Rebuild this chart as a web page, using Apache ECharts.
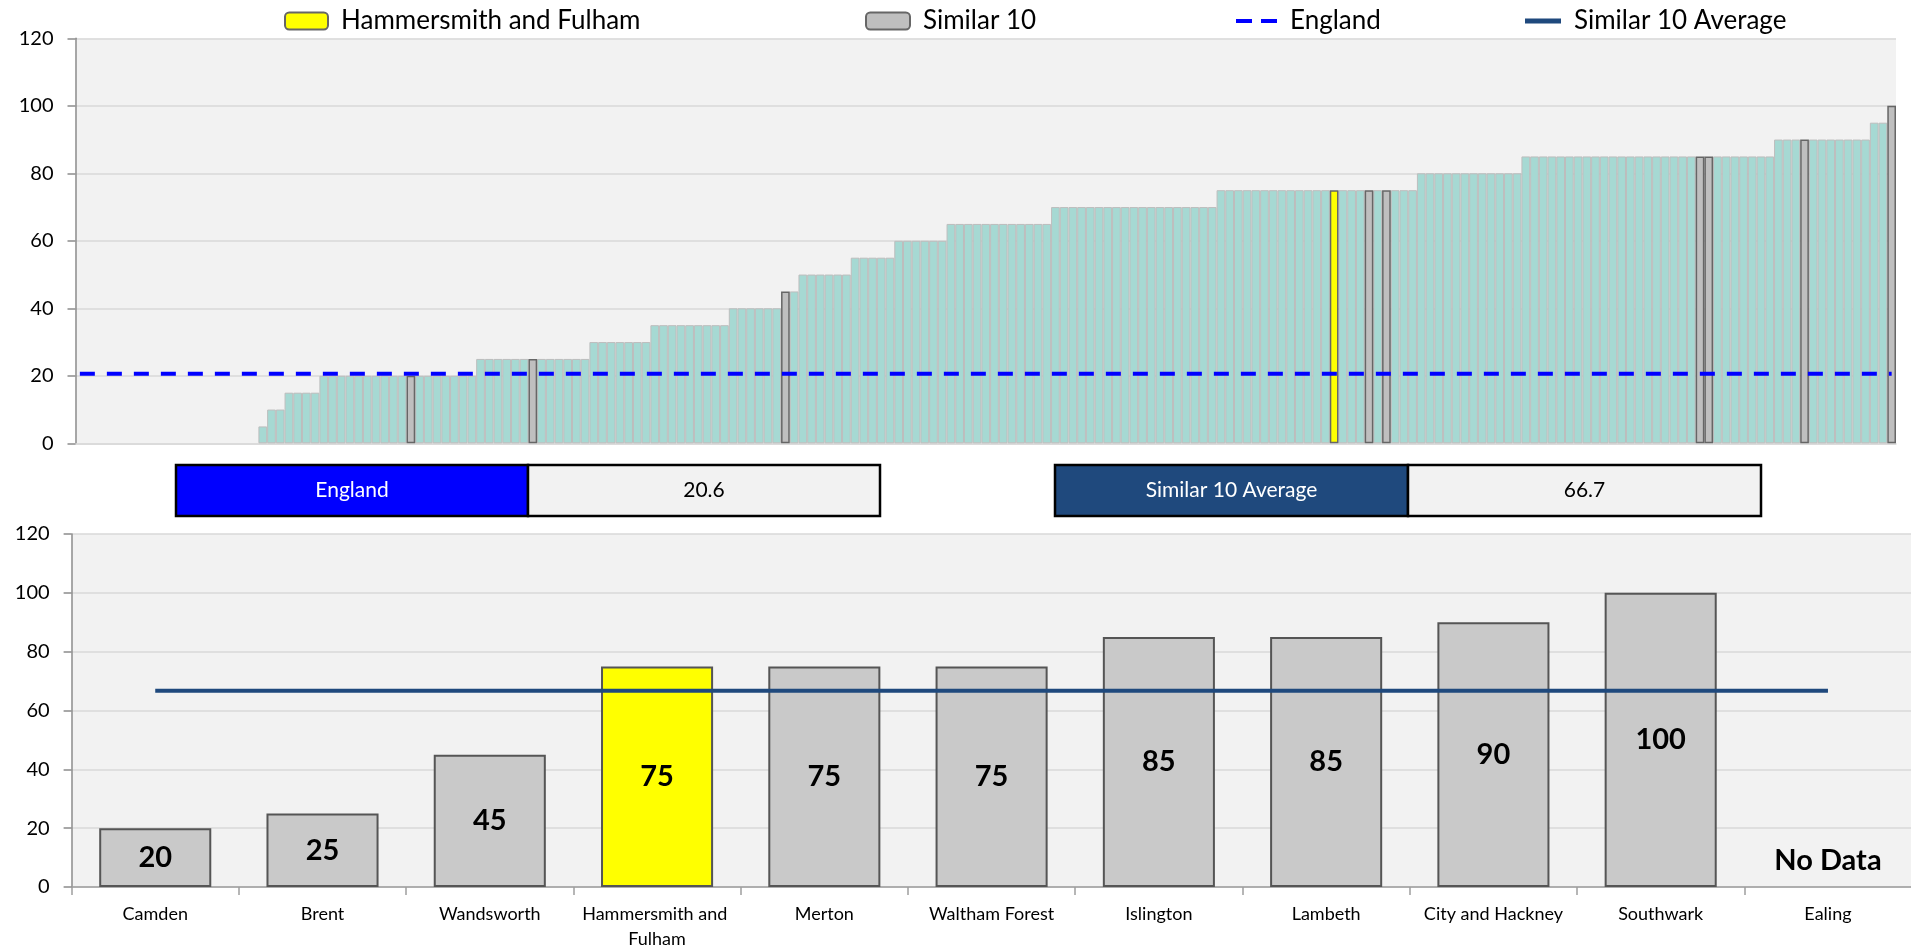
<!DOCTYPE html>
<html>
<head>
<meta charset="utf-8">
<title>Hammersmith and Fulham - Similar 10</title>
<script src="https://cdn.jsdelivr.net/npm/echarts@6/dist/echarts.min.js"></script>
<style>
  html, body { margin: 0; padding: 0; background: #fff; }
  #chart { width: 1911px; height: 949px; }
</style>
</head>
<body>
<div id="chart"></div>
<script>
// every authority, ranked low to high (first 21 have no value)
const allValues = [
  null, null, null, null, null, null, null, null, null, null, null,
  null, null, null, null, null, null, null, null, null, null,
  5, 10, 10, 15, 15, 15, 15,
  20, 20, 20, 20, 20, 20, 20, 20, 20,
  20, 20, 20, 20, 20, 20, 20, 20, 20,
  25, 25, 25, 25, 25, 25, 25, 25, 25, 25, 25, 25, 25,
  30, 30, 30, 30, 30, 30, 30,
  35, 35, 35, 35, 35, 35, 35, 35, 35,
  40, 40, 40, 40, 40, 40,
  45, 45,
  50, 50, 50, 50, 50, 50,
  55, 55, 55, 55, 55,
  60, 60, 60, 60, 60, 60,
  65, 65, 65, 65, 65, 65, 65, 65, 65, 65, 65, 65,
  70, 70, 70, 70, 70, 70, 70, 70, 70, 70,
  70, 70, 70, 70, 70, 70, 70, 70, 70,
  75, 75, 75, 75, 75, 75, 75, 75, 75, 75, 75, 75,
  75, 75, 75, 75, 75, 75, 75, 75, 75, 75, 75,
  80, 80, 80, 80, 80, 80, 80, 80, 80, 80, 80, 80,
  85, 85, 85, 85, 85, 85, 85, 85, 85, 85,
  85, 85, 85, 85, 85, 85, 85, 85, 85, 85,
  85, 85, 85, 85, 85, 85, 85, 85, 85,
  90, 90, 90, 90, 90, 90, 90, 90, 90, 90, 90,
  95, 95,
  100
];
// positions of the similar 10 and the focus authority in the ranking
const similarIdx = [38, 52, 81, 148, 150, 186, 187, 198, 208];
const focusIdx = 144;

const englandValue = 20.6;
const similarAvg = 66.7;

const focusName = 'Hammersmith and Fulham';
const similarNames = ['Camden', 'Brent', 'Wandsworth', 'Hammersmith and Fulham', 'Merton',
  'Waltham Forest', 'Islington', 'Lambeth', 'City and Hackney', 'Southwark', 'Ealing'];
const similarValues = [20, 25, 45, 75, 75, 75, 85, 85, 90, 100, null];

const FONT = 'Lato, "Noto Sans", sans-serif';

const chart = echarts.init(document.getElementById('chart'));

const isSimilar = (i) => similarIdx.indexOf(i) >= 0;

const yAxisBase = {
  type: 'value',
  min: 0,
  max: 120,
  interval: 20,
  axisLine: { show: true, lineStyle: { color: '#8c8c8c', width: 1.5 } },
  axisTick: { show: true, length: 8, lineStyle: { color: '#8c8c8c', width: 1.5 } },
  axisLabel: { fontSize: 20, margin: 22, color: '#000', fontFamily: FONT },
  splitLine: { lineStyle: { color: '#d9d9d9', width: 1.5 } }
};

const legendBase = {
  padding: 0,
  top: 8,
  itemHeight: 17,
  selectedMode: false,
  symbolKeepAspect: true,
  textStyle: { fontSize: 26, color: '#000', fontFamily: FONT, padding: [0, 0, 0, 8] }
};

const option = {
  animation: false,
  backgroundColor: '#fff',
  legend: [
    Object.assign({}, legendBase, { data: [focusName], left: 284, itemWidth: 43 }),
    Object.assign({}, legendBase, { data: ['Similar 10'], left: 865, itemWidth: 44 }),
    Object.assign({}, legendBase, {
      data: ['England'], left: 1236, itemWidth: 41,
      icon: 'path://M0,0h16v4h-16zM25,0h16v4h-16z'
    }),
    Object.assign({}, legendBase, {
      data: ['Similar 10 Average'], left: 1525, itemWidth: 36,
      icon: 'path://M0,0h36v5h-36z'
    })
  ],
  grid: [
    { left: 75.5, top: 38.3, width: 1820.5, height: 405, show: true,
      backgroundColor: '#f2f2f2', borderWidth: 0, outerBoundsMode: 'none' },
    { left: 71.6, top: 534, width: 1840, height: 353, show: true,
      backgroundColor: '#f2f2f2', borderWidth: 0, outerBoundsMode: 'none' }
  ],
  xAxis: [
    {
      type: 'category',
      gridIndex: 0,
      data: allValues.map((v, i) => String(i)),
      axisLabel: { show: false },
      axisTick: { show: false },
      axisLine: { lineStyle: { color: '#d9d9d9', width: 1.5 } }
    },
    {
      type: 'category',
      gridIndex: 1,
      data: similarNames,
      axisTick: { show: true, length: 8, lineStyle: { color: '#9e9e9e', width: 1.5 } },
      axisLine: { lineStyle: { color: '#9e9e9e', width: 1.5 } },
      axisLabel: {
        interval: 0, fontSize: 18, color: '#000', fontFamily: FONT, margin: 15,
        width: 160, overflow: 'break', lineHeight: 25
      }
    }
  ],
  yAxis: [
    Object.assign({ gridIndex: 0 }, yAxisBase),
    Object.assign({ gridIndex: 1 }, yAxisBase)
  ],
  graphic: [
    { type: 'rect', shape: { x: 176, y: 465, width: 352, height: 51 },
      style: { fill: '#0000ff', stroke: '#000', lineWidth: 2.5 } },
    { type: 'rect', shape: { x: 528, y: 465, width: 352, height: 51 },
      style: { fill: '#f2f2f2', stroke: '#000', lineWidth: 2.5 } },
    { type: 'text', x: 352, y: 490.5,
      style: { text: 'England', fill: '#fff', fontSize: 21, fontFamily: FONT, align: 'center', verticalAlign: 'middle' } },
    { type: 'text', x: 704, y: 490.5,
      style: { text: String(englandValue), fill: '#000', fontSize: 21, fontFamily: FONT, align: 'center', verticalAlign: 'middle' } },
    { type: 'rect', shape: { x: 1055, y: 465, width: 353, height: 51 },
      style: { fill: '#1f497d', stroke: '#000', lineWidth: 2.5 } },
    { type: 'rect', shape: { x: 1408, y: 465, width: 353, height: 51 },
      style: { fill: '#f2f2f2', stroke: '#000', lineWidth: 2.5 } },
    { type: 'text', x: 1231.5, y: 490.5,
      style: { text: 'Similar 10 Average', fill: '#fff', fontSize: 21, fontFamily: FONT, align: 'center', verticalAlign: 'middle' } },
    { type: 'text', x: 1584.5, y: 490.5,
      style: { text: String(similarAvg), fill: '#000', fontSize: 21, fontFamily: FONT, align: 'center', verticalAlign: 'middle' } }
  ],
  series: [
    {
      name: 'All authorities',
      type: 'bar',
      xAxisIndex: 0,
      yAxisIndex: 0,
      barGap: '-100%',
      barCategoryGap: '0%',
      silent: true,
      itemStyle: { color: '#a6d9d3', borderColor: '#bdbdbd', borderWidth: 1 },
      data: allValues.map((v, i) => (v == null || i === focusIdx || isSimilar(i)) ? '-' : v)
    },
    {
      name: 'Similar 10',
      type: 'bar',
      xAxisIndex: 0,
      yAxisIndex: 0,
      barGap: '-100%',
      barCategoryGap: '0%',
      itemStyle: { color: '#bfbfbf', borderColor: '#666', borderWidth: 1.5 },
      data: allValues.map((v, i) => isSimilar(i) ? v : '-')
    },
    {
      name: focusName,
      type: 'bar',
      xAxisIndex: 0,
      yAxisIndex: 0,
      barGap: '-100%',
      barCategoryGap: '0%',
      itemStyle: { color: '#ffff00', borderColor: '#666', borderWidth: 1.5 },
      data: allValues.map((v, i) => i === focusIdx ? v : '-')
    },
    {
      name: 'England',
      type: 'line',
      xAxisIndex: 0,
      yAxisIndex: 0,
      symbol: 'none',
      z: 5,
      lineStyle: { color: '#0000ff', width: 4, type: [15, 12] },
      itemStyle: { color: '#0000ff' },
      data: allValues.map(() => englandValue)
    },
    {
      name: 'Similar 10 values',
      type: 'bar',
      xAxisIndex: 1,
      yAxisIndex: 1,
      barCategoryGap: '33%',
      itemStyle: { color: '#c9c9c9', borderColor: '#555', borderWidth: 2 },
      label: {
        show: true, position: 'inside', fontSize: 29, fontWeight: 'bold',
        color: '#000', fontFamily: FONT
      },
      data: similarValues.map((v, i) => {
        if (v == null) {
          return {
            value: 0,
            itemStyle: { color: 'transparent', borderWidth: 0 },
            label: { position: 'top', distance: 12, formatter: 'No Data' }
          };
        }
        return {
          value: v,
          itemStyle: { color: similarNames[i] === focusName ? '#ffff00' : '#c9c9c9' }
        };
      })
    },
    {
      name: 'Similar 10 Average',
      type: 'line',
      xAxisIndex: 1,
      yAxisIndex: 1,
      symbol: 'none',
      z: 5,
      lineStyle: { color: '#1f497d', width: 4 },
      itemStyle: { color: '#1f497d' },
      data: similarNames.map(() => similarAvg)
    }
  ]
};

chart.setOption(option);
</script>
</body>
</html>
